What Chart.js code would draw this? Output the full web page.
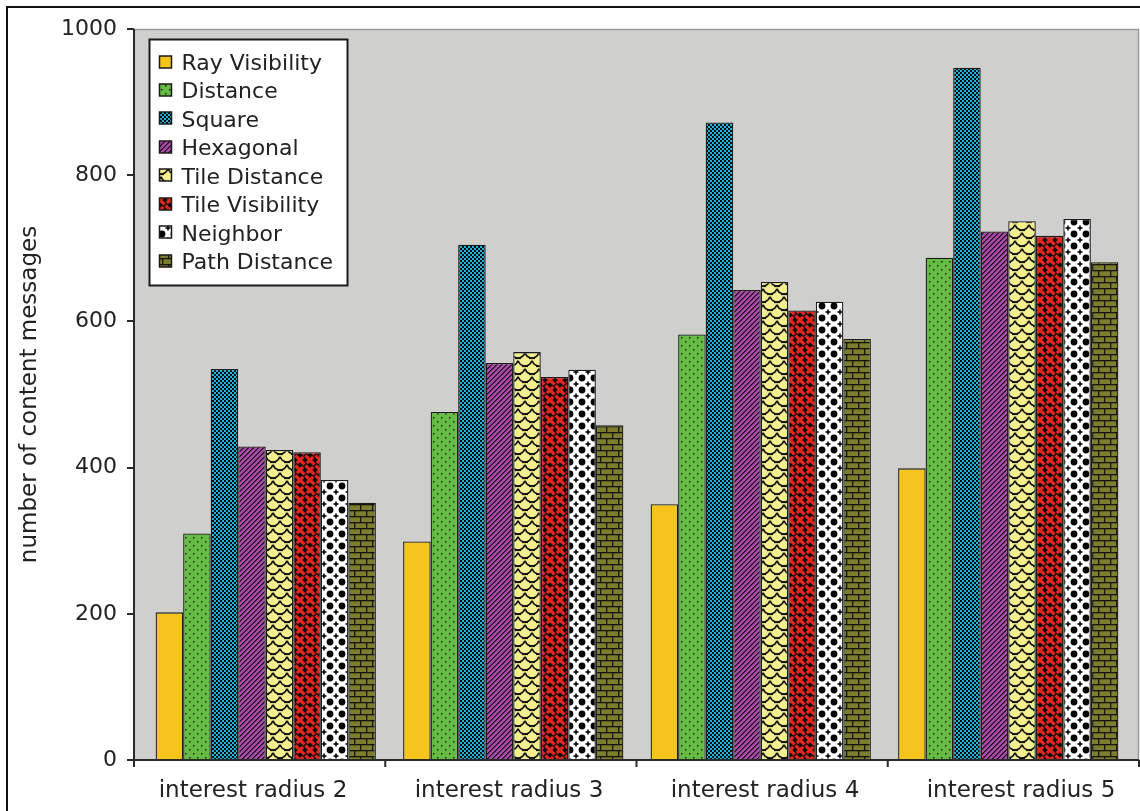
<!DOCTYPE html>
<html>
<head>
<meta charset="utf-8">
<script src="https://cdn.jsdelivr.net/npm/chart.js@4.4.1/dist/chart.umd.min.js"></script>
<style>
  html, body { margin: 0; padding: 0; background: #fff; }
  #wrap { width: 1140px; height: 811px; }
  canvas { display: block; }
</style>
</head>
<body>
<div id="wrap"><canvas id="chart" width="1140" height="811"></canvas></div>
<script>
// ---- data ----
const categories = ['interest radius 2', 'interest radius 3', 'interest radius 4', 'interest radius 5'];
const seriesNames = ['Ray Visibility', 'Distance', 'Square', 'Hexagonal', 'Tile Distance', 'Tile Visibility', 'Neighbor', 'Path Distance'];
const rayVisibility  = [202, 299, 350, 399];
const distance       = [310, 476, 582, 687];
const square         = [535, 705, 872, 947];
const hexagonal      = [429, 543, 643, 723];
const tileDistance   = [424, 558, 654, 737];
const tileVisibility = [421, 524, 615, 717];
const neighbor       = [383, 534, 627, 740];
const pathDistance   = [352, 458, 576, 681];
const yTickValues    = [0, 200, 400, 600, 800, 1000];
const yAxisTitle     = 'number of content messages';

const FONT = 'DejaVu Sans';
const TEXT = '#222';

// ---- fill patterns ----
const canvas = document.getElementById('chart');
const baseCtx = canvas.getContext('2d');
function tile(w, h, paint) {
  const c = document.createElement('canvas');
  c.width = w; c.height = h;
  const g = c.getContext('2d');
  paint(g, w, h);
  return baseCtx.createPattern(c, 'repeat');
}

const fillRay = '#f5c41d';

const fillDistance = tile(8, 8, (g) => {
  g.fillStyle = '#66bb44'; g.fillRect(0, 0, 8, 8);
  g.fillStyle = '#142a0c';
  g.fillRect(1, 1, 1.5, 1.5);
  g.fillRect(5, 5, 1.5, 1.5);
});

const fillSquare = tile(4, 4, (g) => {
  g.fillStyle = '#1fb4de'; g.fillRect(0, 0, 4, 4);
  g.fillStyle = '#0a0a0a';
  g.fillRect(0, 0, 2, 2);
  g.fillRect(2, 2, 2, 2);
});

const fillHexagonal = tile(5, 5, (g) => {
  g.fillStyle = '#a84ba6'; g.fillRect(0, 0, 5, 5);
  for (let x = 0; x < 5; x++) {
    for (let y = 0; y < 5; y++) {
      const k = (x + y) % 5;
      if (k === 0) { g.fillStyle = '#1a0a1a'; g.fillRect(x, y, 1, 1); }
      if (k === 1) { g.fillStyle = '#5a2458'; g.fillRect(x, y, 1, 1); }
    }
  }
});

// fish-scale tiles: rows of cups offset by half a tile
const fillTileDistance = tile(14, 16, (g) => {
  g.fillStyle = '#f4ee8e'; g.fillRect(0, 0, 14, 16);
  g.strokeStyle = '#111'; g.lineWidth = 1.6;
  const rows = [[0, 0], [8, 7], [16, 0]];
  rows.forEach(([y, off]) => {
    for (let cx = -14; cx <= 28; cx += 14) {
      g.beginPath();
      g.arc(cx + off, y - 1, 7, 0.08 * Math.PI, 0.92 * Math.PI);
      g.stroke();
      g.beginPath();
      g.moveTo(cx + off - 3, y + 6.3); g.lineTo(cx + off + 3, y + 6.3);
      g.stroke();
    }
  });
});

// basket weave: red strands over black
const fillTileVisibility = tile(10, 10, (g) => {
  g.fillStyle = '#0c0c0c'; g.fillRect(0, 0, 10, 10);
  g.strokeStyle = '#e8251f'; g.lineWidth = 3.2; g.lineCap = 'butt';
  for (let dx = -10; dx <= 10; dx += 10) {
    g.beginPath(); g.moveTo(dx - 1, -1); g.lineTo(dx + 11, 11); g.stroke();
  }
  g.strokeStyle = '#0c0c0c'; g.lineWidth = 1.3;
  for (let dx = -10; dx <= 10; dx += 10) {
    g.beginPath(); g.moveTo(dx + 1.5, 8.5); g.lineTo(dx + 8.5, 1.5); g.stroke();
  }
  g.strokeStyle = '#e8251f'; g.lineWidth = 3.2;
  for (let dx = -10; dx <= 10; dx += 10) {
    g.beginPath(); g.moveTo(dx - 1, 11); g.lineTo(dx + 3.2, 6.8); g.stroke();
    g.beginPath(); g.moveTo(dx + 6.8, 3.2); g.lineTo(dx + 11, -1); g.stroke();
  }
});

const fillNeighbor = tile(12, 12, (g) => {
  g.fillStyle = '#ffffff'; g.fillRect(0, 0, 12, 12);
  g.fillStyle = '#050505';
  g.beginPath(); g.arc(6, 6, 3.4, 0, Math.PI * 2); g.fill();
  [[0, 0], [12, 0], [0, 12], [12, 12]].forEach(([x, y]) => {
    g.fillRect(x - 2.5, y - 0.8, 5, 1.6);
    g.fillRect(x - 0.8, y - 2.5, 1.6, 5);
  });
});

const fillPath = tile(12, 12, (g) => {
  g.fillStyle = '#7d7d30'; g.fillRect(0, 0, 12, 12);
  g.fillStyle = '#161608';
  g.fillRect(0, 0, 12, 1.3);
  g.fillRect(0, 6, 12, 1.3);
  g.fillRect(0, 0, 1.3, 6);
  g.fillRect(6, 6, 1.3, 6);
});

const seriesValues = [rayVisibility, distance, square, hexagonal, tileDistance, tileVisibility, neighbor, pathDistance];
const seriesFills  = [fillRay, fillDistance, fillSquare, fillHexagonal, fillTileDistance, fillTileVisibility, fillNeighbor, fillPath];

const datasets = seriesNames.map((name, i) => ({
  label: name,
  data: seriesValues[i],
  backgroundColor: seriesFills[i],
  borderColor: '#1c1c1c',
  borderWidth: 1.3,
  barPercentage: 1.0,
  categoryPercentage: 0.89
}));

// ---- frame, axes, legend and category labels ----
const framePlugin = {
  id: 'frame',
  beforeDraw(chart) {
    const { ctx, chartArea: a } = chart;
    const L = a.left - 8, R = a.right + 7, T = a.top, B = a.bottom;
    ctx.save();
    ctx.fillStyle = '#fff';
    ctx.fillRect(0, 0, chart.width, chart.height);
    // outer border
    ctx.strokeStyle = '#111'; ctx.lineWidth = 2;
    ctx.beginPath();
    ctx.moveTo(7, chart.height); ctx.lineTo(7, 7); ctx.lineTo(chart.width, 7);
    ctx.stroke();
    // plot background
    ctx.fillStyle = '#cfd0ce';
    ctx.fillRect(L, T, R - L, B - T);
    ctx.strokeStyle = '#9c9c9c'; ctx.lineWidth = 1.5;
    ctx.beginPath();
    ctx.moveTo(L, T + 0.5); ctx.lineTo(R - 0.5, T + 0.5); ctx.lineTo(R - 0.5, B);
    ctx.stroke();
    ctx.restore();
  },
  afterDatasetsDraw(chart) {
    const { ctx, chartArea: a, scales } = chart;
    const L = a.left - 8, R = a.right + 7, T = a.top, B = a.bottom;
    ctx.save();
    // axes
    ctx.strokeStyle = '#2a2a2a'; ctx.lineWidth = 2;
    ctx.beginPath();
    ctx.moveTo(L, T); ctx.lineTo(L, B + 7);
    ctx.moveTo(L - 7, B); ctx.lineTo(R, B);
    yTickValues.forEach(v => {
      const y = Math.round(scales.y.getPixelForValue(v));
      ctx.moveTo(L - 7, y); ctx.lineTo(L, y);
    });
    for (let k = 1; k <= categories.length; k++) {
      const x = L + k * (R - L) / categories.length;
      ctx.moveTo(x, B); ctx.lineTo(x, B + 7);
    }
    ctx.stroke();

    // category labels
    ctx.fillStyle = TEXT;
    ctx.font = `23px "${FONT}"`;
    ctx.textAlign = 'center';
    ctx.textBaseline = 'alphabetic';
    categories.forEach((c, i) => {
      const x = scales.x.getPixelForValue(i) + (i - 1.5) * 8.5;
      ctx.fillText(c, x, B + 37);
    });

    // legend
    ctx.font = `22px "${FONT}"`;
    const lx = L + 15.5, ly = T + 10.5, lw = 198, lh = 246;
    ctx.fillStyle = '#fff';
    ctx.fillRect(lx, ly, lw, lh);
    ctx.strokeStyle = '#1a1a1a'; ctx.lineWidth = 2;
    ctx.strokeRect(lx, ly, lw, lh);
    const step = 28.45;
    ctx.textAlign = 'left';
    chart.data.datasets.forEach((ds, i) => {
      const cy = ly + 22 + i * step;
      const mx = lx + 10, my = Math.round(cy - 6);
      ctx.fillStyle = ds.backgroundColor;
      ctx.fillRect(mx, my, 12, 12);
      ctx.strokeStyle = '#1a1a1a'; ctx.lineWidth = 1.5;
      ctx.strokeRect(mx, my, 12, 12);
      ctx.fillStyle = TEXT;
      ctx.fillText(ds.label, lx + 32, cy + 8.5);
    });
    ctx.restore();
  }
};

new Chart(canvas, {
  type: 'bar',
  data: { labels: categories, datasets },
  options: {
    responsive: false,
    animation: false,
    devicePixelRatio: 1,
    layout: { padding: { left: 0, right: 8, top: 29, bottom: 0 } },
    plugins: { legend: { display: false }, tooltip: { enabled: false } },
    scales: {
      x: {
        type: 'category',
        offset: true,
        grid: { display: false, drawTicks: false },
        border: { display: false },
        ticks: { display: false },
        afterFit: (s) => { s.height = 51; }
      },
      y: {
        min: 0,
        max: 1000,
        afterBuildTicks: (s) => { s.ticks = yTickValues.map(v => ({ value: v })); },
        ticks: {
          font: { family: FONT, size: 22 },
          color: TEXT,
          padding: 25,
          callback: (v) => String(v)
        },
        grid: { display: false, drawTicks: false },
        border: { display: false },
        title: {
          display: true,
          text: yAxisTitle,
          font: { family: FONT, size: 23 },
          color: TEXT,
          padding: { top: 16, bottom: 0 }
        },
        afterFit: (s) => {
          s.width = 142;
          s.paddingTop = 13;
          s.paddingBottom = 13;
        }
      }
    }
  },
  plugins: [framePlugin]
});
</script>
</body>
</html>
